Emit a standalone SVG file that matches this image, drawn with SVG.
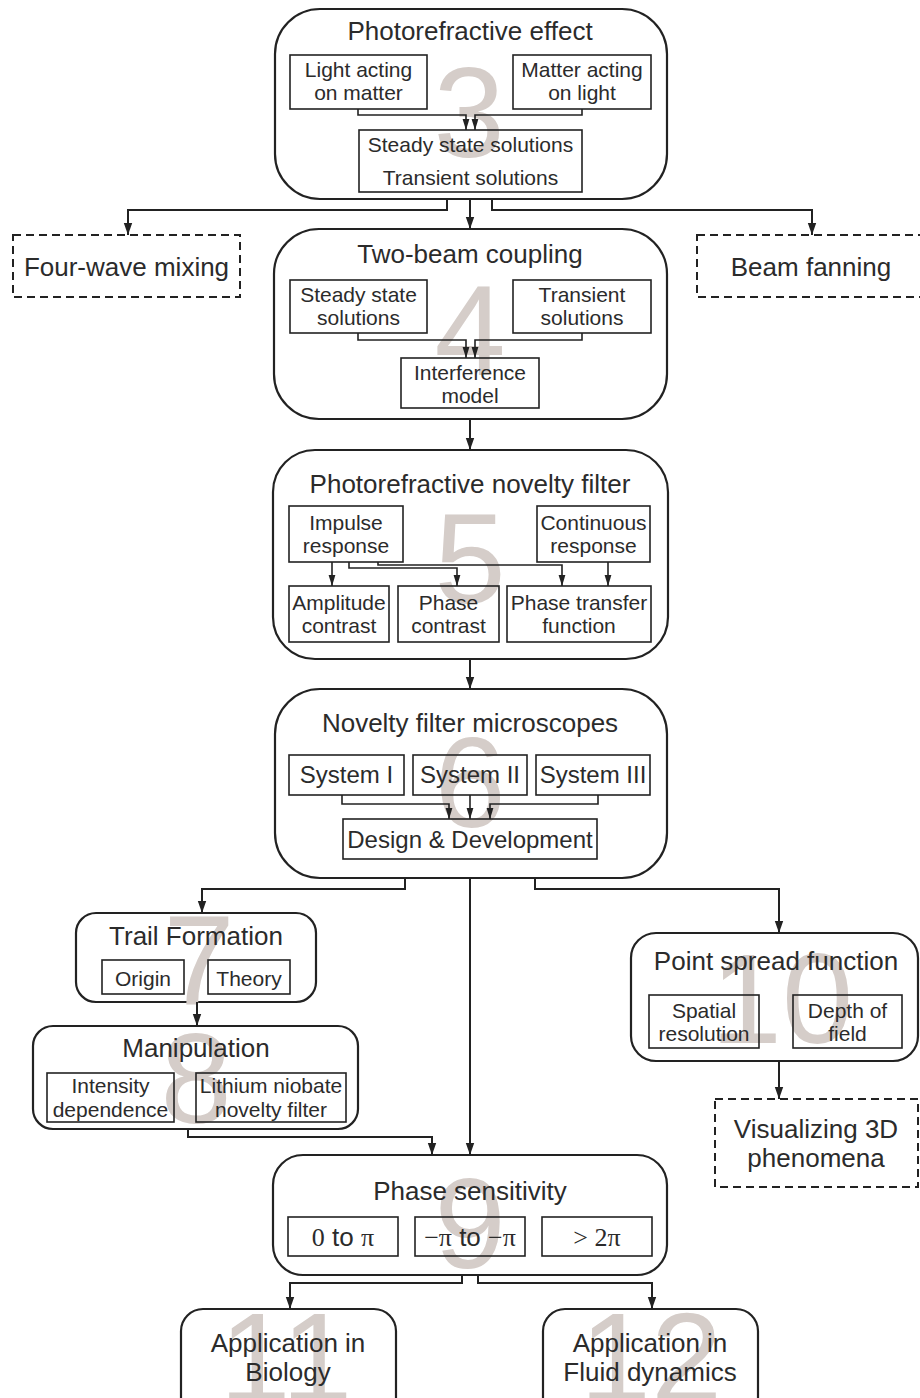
<svg xmlns="http://www.w3.org/2000/svg" width="920" height="1398" viewBox="0 0 920 1398">
<style>
text{font-family:"Liberation Sans",Arial,sans-serif;fill:#2b2b2b;text-anchor:middle}
.t26{font-size:26px}
.t24{font-size:24px}
.t21{font-size:21px}
.num{font-size:128px;fill:#d5cdc9}
.serif{font-family:"Liberation Serif","Times New Roman",serif}
.outer{fill:#fff;stroke:#222;stroke-width:2.2}
.box{fill:none;stroke:#222;stroke-width:1.6}
.dash{fill:#fff;stroke:#222;stroke-width:2;stroke-dasharray:8 5}
.conn{fill:none;stroke:#222;stroke-width:2}
.iconn{fill:none;stroke:#222;stroke-width:1.6}
</style>
<defs>
<marker id="ah" markerUnits="userSpaceOnUse" markerWidth="12" markerHeight="10" refX="12" refY="5" orient="auto">
<path d="M0,0.8 L12,5 L0,9.2 z" fill="#222"/>
</marker>
<marker id="ahs" markerUnits="userSpaceOnUse" markerWidth="11" markerHeight="8" refX="11" refY="4" orient="auto">
<path d="M0,0.6 L11,4 L0,7.4 z" fill="#222"/>
</marker>
</defs>
<rect width="920" height="1398" fill="#fff"/>

<g id="n3">
<rect class="outer" x="275" y="9" width="392" height="190" rx="45"/>
<text class="num" x="469" y="157">3</text>
<text class="t26" x="470" y="40">Photorefractive effect</text>
<rect class="box" x="290" y="55" width="137" height="54"/>
<text class="t21" x="358.5" y="77">Light acting</text>
<text class="t21" x="358.5" y="100">on matter</text>
<rect class="box" x="513" y="55" width="138" height="54"/>
<text class="t21" x="582" y="77">Matter acting</text>
<text class="t21" x="582" y="100">on light</text>
<rect class="box" x="359" y="130" width="223" height="62"/>
<text class="t21" x="470.5" y="152">Steady state solutions</text>
<text class="t21" x="470.5" y="185">Transient solutions</text>
<path class="iconn" d="M358,109 V115 H466 V130" marker-end="url(#ahs)"/>
<path class="iconn" d="M582,109 V115 H475 V130" marker-end="url(#ahs)"/>
</g>

<g id="fwm">
<rect class="dash" x="13" y="235" width="227" height="62"/>
<text class="t26" x="126.5" y="276">Four-wave mixing</text>
</g>
<g id="bf">
<rect class="dash" x="697" y="235" width="240" height="62"/>
<text class="t26" x="811" y="276">Beam fanning</text>
</g>

<g id="n4">
<rect class="outer" x="274" y="229" width="393" height="190" rx="45"/>
<text class="num" x="470" y="375">4</text>
<text class="t26" x="470" y="263">Two-beam coupling</text>
<rect class="box" x="290" y="280" width="137" height="53"/>
<text class="t21" x="358.5" y="302">Steady state</text>
<text class="t21" x="358.5" y="325">solutions</text>
<rect class="box" x="513" y="280" width="138" height="53"/>
<text class="t21" x="582" y="302">Transient</text>
<text class="t21" x="582" y="325">solutions</text>
<rect class="box" x="401" y="358" width="138" height="50"/>
<text class="t21" x="470" y="380">Interference</text>
<text class="t21" x="470" y="403">model</text>
<path class="iconn" d="M358,333 V340 H466 V358" marker-end="url(#ahs)"/>
<path class="iconn" d="M582,333 V340 H475 V358" marker-end="url(#ahs)"/>
</g>

<g id="n5">
<rect class="outer" x="273" y="450" width="395" height="209" rx="42"/>
<text class="num" x="470" y="603">5</text>
<text class="t26" x="470" y="493">Photorefractive novelty filter</text>
<rect class="box" x="289" y="506" width="114" height="56"/>
<text class="t21" x="346" y="530">Impulse</text>
<text class="t21" x="346" y="553">response</text>
<rect class="box" x="537" y="506" width="113" height="56"/>
<text class="t21" x="593.5" y="530">Continuous</text>
<text class="t21" x="593.5" y="553">response</text>
<rect class="box" x="289" y="586" width="100" height="56"/>
<text class="t21" x="339" y="610">Amplitude</text>
<text class="t21" x="339" y="633">contrast</text>
<rect class="box" x="398" y="586" width="101" height="56"/>
<text class="t21" x="448.5" y="610">Phase</text>
<text class="t21" x="448.5" y="633">contrast</text>
<rect class="box" x="507" y="586" width="144" height="56"/>
<text class="t21" x="579" y="610">Phase transfer</text>
<text class="t21" x="579" y="633">function</text>
<path class="iconn" d="M332,562 V586" marker-end="url(#ahs)"/>
<path class="iconn" d="M349,562 V568 H457 V586" marker-end="url(#ahs)"/>
<path class="iconn" d="M378,562 V565 H562 V586" marker-end="url(#ahs)"/>
<path class="iconn" d="M608,562 V586" marker-end="url(#ahs)"/>
</g>

<g id="n6">
<rect class="outer" x="275" y="689" width="392" height="189" rx="45"/>
<text class="num" x="470" y="827">6</text>
<text class="t26" x="470" y="732">Novelty filter microscopes</text>
<rect class="box" x="289" y="755" width="115" height="40"/>
<text class="t24" x="346.5" y="783">System I</text>
<rect class="box" x="413" y="755" width="114" height="40"/>
<text class="t24" x="470" y="783">System II</text>
<rect class="box" x="536" y="755" width="114" height="40"/>
<text class="t24" x="593" y="783">System III</text>
<rect class="box" x="343" y="819" width="254" height="40"/>
<text class="t24" x="470" y="848">Design &amp; Development</text>
<path class="iconn" d="M342,795 V804 H449 V819" marker-end="url(#ahs)"/>
<path class="iconn" d="M470,795 V819" marker-end="url(#ahs)"/>
<path class="iconn" d="M598,795 V804 H490 V819" marker-end="url(#ahs)"/>
</g>

<g id="n7">
<rect class="outer" x="76" y="913" width="240" height="89" rx="20"/>
<text class="num" x="199" y="1005">7</text>
<text class="t26" x="196" y="945">Trail Formation</text>
<rect class="box" x="102" y="960" width="82" height="34"/>
<text class="t21" x="143" y="986">Origin</text>
<rect class="box" x="208" y="960" width="82" height="34"/>
<text class="t21" x="249" y="986">Theory</text>
</g>

<g id="n8">
<rect class="outer" x="33" y="1026" width="325" height="103" rx="20"/>
<text class="num" x="196" y="1123">8</text>
<text class="t26" x="196" y="1057">Manipulation</text>
<rect class="box" x="47" y="1073" width="127" height="49"/>
<text class="t21" x="110.5" y="1093">Intensity</text>
<text class="t21" x="110.5" y="1117">dependence</text>
<rect class="box" x="196" y="1073" width="150" height="49"/>
<text class="t21" x="271" y="1093">Lithium niobate</text>
<text class="t21" x="271" y="1117">novelty filter</text>
</g>

<g id="n10">
<rect class="outer" x="631" y="933" width="287" height="128" rx="25"/>
<text class="num" x="782" y="1043">10</text>
<text class="t26" x="776" y="970">Point spread function</text>
<rect class="box" x="649" y="995" width="110" height="53"/>
<text class="t21" x="704" y="1018">Spatial</text>
<text class="t21" x="704" y="1041">resolution</text>
<rect class="box" x="793" y="995" width="109" height="53"/>
<text class="t21" x="847.5" y="1018">Depth of</text>
<text class="t21" x="847.5" y="1041">field</text>
</g>

<g id="v3d">
<rect class="dash" x="715" y="1099" width="203" height="88"/>
<text class="t26" x="816" y="1138">Visualizing 3D</text>
<text class="t26" x="816" y="1167">phenomena</text>
</g>

<g id="n9">
<rect class="outer" x="273" y="1155" width="394" height="120" rx="30"/>
<text class="num" x="470" y="1268">9</text>
<text class="t26" x="470" y="1200">Phase sensitivity</text>
<rect class="box" x="288" y="1217" width="110" height="39"/>
<text class="t26" x="343" y="1246"><tspan class="serif">0</tspan> to <tspan class="serif">π</tspan></text>
<rect class="box" x="415" y="1217" width="110" height="39"/>
<text class="t26" x="470" y="1246"><tspan class="serif">−π</tspan> to <tspan class="serif">−π</tspan></text>
<rect class="box" x="542" y="1217" width="110" height="39"/>
<text class="t26 serif" x="597" y="1246">&gt; 2π</text>
</g>

<g id="n11">
<rect class="outer" x="181" y="1309" width="215" height="120" rx="22"/>
<text class="num" x="286" y="1402">11</text>
<text class="t26" x="288" y="1352">Application in</text>
<text class="t26" x="288" y="1381">Biology</text>
</g>

<g id="n12">
<rect class="outer" x="543" y="1309" width="215" height="120" rx="22"/>
<text class="num" x="651" y="1402">12</text>
<text class="t26" x="650" y="1352">Application in</text>
<text class="t26" x="650" y="1381">Fluid dynamics</text>
</g>

<g id="connectors">
<path class="conn" d="M447,199 V210 H128 V235" marker-end="url(#ah)"/>
<path class="conn" d="M470,199 V229" marker-end="url(#ah)"/>
<path class="conn" d="M492,199 V210 H812 V235" marker-end="url(#ah)"/>
<path class="conn" d="M470,419 V450" marker-end="url(#ah)"/>
<path class="conn" d="M470,659 V689" marker-end="url(#ah)"/>
<path class="conn" d="M405,878 V889 H202 V913" marker-end="url(#ah)"/>
<path class="conn" d="M470,878 V1155" marker-end="url(#ah)"/>
<path class="conn" d="M535,878 V889 H779 V933" marker-end="url(#ah)"/>
<path class="conn" d="M197,1002 V1026" marker-end="url(#ah)"/>
<path class="conn" d="M188,1129 V1137 H432 V1155" marker-end="url(#ah)"/>
<path class="conn" d="M779,1061 V1099" marker-end="url(#ah)"/>
<path class="conn" d="M462,1275 V1283 H290 V1309" marker-end="url(#ah)"/>
<path class="conn" d="M478,1275 V1283 H652 V1309" marker-end="url(#ah)"/>
</g>
</svg>
